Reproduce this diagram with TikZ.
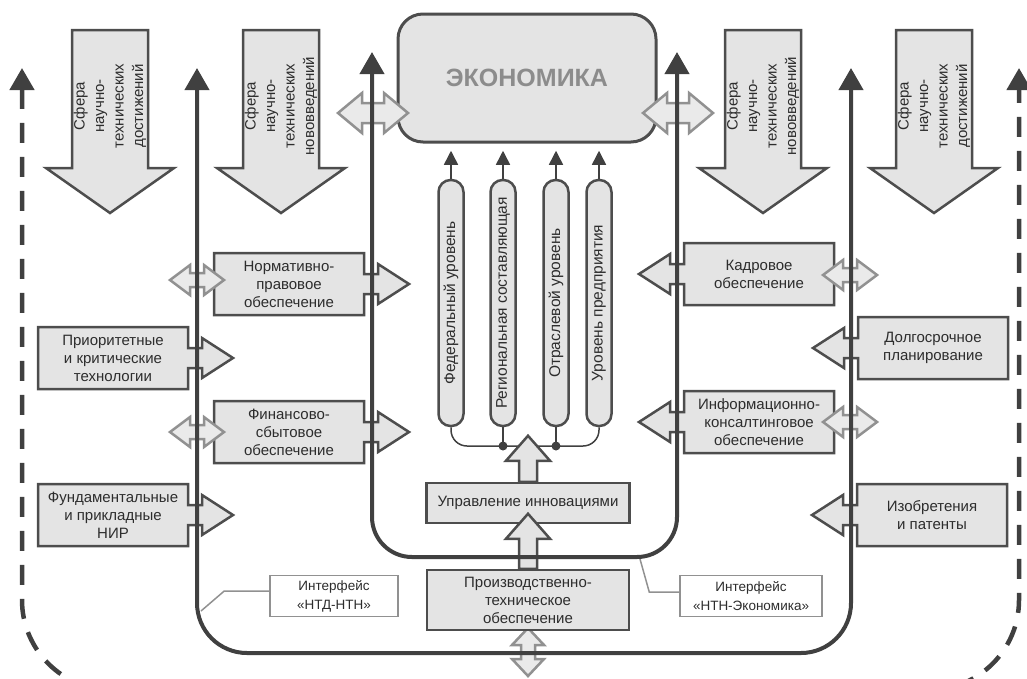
\documentclass[tikz,border=0pt]{standalone}
\usepackage{fontspec}
\setmainfont{Liberation Sans}
\usepackage{tikz}
\usetikzlibrary{arrows.meta,calc}
\definecolor{boxFill}{RGB}{228,228,228}
\definecolor{edgeColor}{RGB}{77,77,77}
\definecolor{lineColor}{RGB}{64,64,64}
\definecolor{textColor}{RGB}{45,45,45}
\definecolor{econText}{RGB}{140,140,140}
\definecolor{twoWayFill}{RGB}{234,234,234}
\definecolor{twoWayEdge}{RGB}{145,145,145}
\tikzstyle{scheme} = [x = 1pt, y = -1pt]
\tikzstyle{boxStyle} = [draw=edgeColor, fill=boxFill, line width=2.5pt]
\tikzstyle{boxText} = [text=textColor, align=center, font=\fontsize{15}{18}\selectfont]
\tikzstyle{sphereText} = [text=textColor, align=center, font=\fontsize{15}{19.5}\selectfont, rotate=90]
\tikzstyle{twoWayStyle} = [draw=twoWayEdge, fill=twoWayFill, line width=2.5pt]
\tikzstyle{loopLine} = [color=lineColor, line width=4pt, <->, >={Triangle[length=22pt, width=24pt]}]
\tikzstyle{dashLoop} = [loopLine, line width=4.5pt, dash pattern=on 20pt off 14pt, rounded corners=90pt]
\tikzstyle{rodStyle} = [draw=edgeColor, fill=boxFill, line width=2.5pt, rounded corners=12pt, minimum width=246pt, minimum height=25pt, inner sep=0pt, rotate=90, text=textColor, font=\fontsize{15.5}{18}\selectfont]
\tikzstyle{rodArrow} = [color=lineColor, line width=1.5pt, -{Triangle[length=14pt, width=14pt]}]
\tikzstyle{busLine} = [color=lineColor, line width=1.5pt, rounded corners=16pt]
\tikzstyle{econStyle} = [draw=edgeColor, fill=boxFill, line width=3pt, rounded corners=25pt, minimum width=258pt, minimum height=128pt, text=econText, font=\fontsize{25}{30}\selectfont\bfseries]
\tikzstyle{faceBox} = [draw=twoWayEdge, fill=white, line width=1.5pt, text=textColor, align=center, font=\fontsize{13.5}{19}\selectfont, minimum height=41pt, inner sep=1pt]
\tikzstyle{pointerLine} = [draw=twoWayEdge, line width=1.5pt]
\newcommand{\sphereArrow}[3]{\filldraw [boxStyle] (#2-38,30) -- (#2+38,30) -- (#2+38,168) -- (#2+64,168) -- (#2,213) -- (#2-64,168) -- (#2-38,168) -- cycle; \node (#1) [sphereText] at (#2,106) {#3};}
\newcommand{\boxRight}[3]{
  \begin{scope}[shift={(#2)}]
    \filldraw [boxStyle] (-75,-31) -- (75,-31) -- (75,-10) -- (89,-10) -- (89,-20) -- (120,0) -- (89,20) -- (89,10) -- (75,10) -- (75,31) -- (-75,31) -- cycle;
    \node (#1) [boxText] at (0,0) {#3};
  \end{scope}
}
\newcommand{\boxLeft}[3]{
  \begin{scope}[shift={(#2)}]
    \filldraw [boxStyle] (75,-31) -- (-75,-31) -- (-75,-10) -- (-89,-10) -- (-89,-20) -- (-120,0) -- (-89,20) -- (-89,10) -- (-75,10) -- (-75,31) -- (75,31) -- cycle;
    \node (#1) [boxText] at (0,0) {#3};
  \end{scope}
}
\newcommand{\twoWayH}[6]{\filldraw [twoWayStyle, shift={(#1,#2)}] (-#3,0) -- (-#3+#4,-#5) -- (-#3+#4,-#6) -- (#3-#4,-#6) -- (#3-#4,-#5) -- (#3,0) -- (#3-#4,#5) -- (#3-#4,#6) -- (-#3+#4,#6) -- (-#3+#4,#5) -- cycle;}
\newcommand{\twoWayV}[6]{\filldraw [twoWayStyle, shift={(#1,#2)}] (0,-#3) -- (#5,-#3+#4) -- (#6,-#3+#4) -- (#6,#3-#4) -- (#5,#3-#4) -- (0,#3) -- (-#5,#3-#4) -- (-#6,#3-#4) -- (-#6,-#3+#4) -- (-#5,-#3+#4) -- cycle;}
\newcommand{\upArrow}[2]{\filldraw [boxStyle, shift={(#1)}] (-9,0) -- (-9,-#2+25) -- (-22,-#2+25) -- (0,-#2) -- (22,-#2+25) -- (9,-#2+25) -- (9,0) -- cycle;}

\begin{document}
\begin{tikzpicture}[scheme]
  \useasboundingbox (0,0) rectangle (1027,678);
  \clip (0,0) rectangle (1027,678);

  \sphereArrow{sph1}{110}{Сфера\\научно-\\технических\\достижений}
  \sphereArrow{sph2}{281}{Сфера\\научно-\\технических\\нововведений}
  \sphereArrow{sph3}{763}{Сфера\\научно-\\технических\\нововведений}
  \sphereArrow{sph4}{934}{Сфера\\научно-\\технических\\достижений}

  \draw[dashLoop] (22,68) -- (22,690) -- (1019,690) -- (1019,68);

  \boxRight{prior}{113,358}{Приоритетные\\и критические\\технологии}
  \boxRight{fund}{113,515}{Фундаментальные\\и прикладные\\НИР}
  \boxRight{norm}{289,284}{Нормативно-\\правовое\\обеспечение}
  \boxRight{fin}{289,432}{Финансово-\\сбытовое\\обеспечение}
  \boxLeft{kadr}{759,274}{Кадровое\\обеспечение}
  \boxLeft{info}{759,422}{Информационно-\\консалтинговое\\обеспечение}
  \boxLeft{dolg}{933,348}{Долгосрочное\\планирование}
  \boxLeft{izob}{932,515}{Изобретения\\и патенты}

  \node (econ) [econStyle] at (527,78) {ЭКОНОМИКА};

  \twoWayH{373}{113}{35}{24}{20}{10}
  \twoWayH{678}{113}{35}{24}{20}{10}
  \twoWayH{197}{280}{27}{20}{15}{7}
  \twoWayH{197}{432}{27}{20}{15}{7}
  \twoWayH{850}{275}{27}{20}{15}{7}
  \twoWayH{850}{422}{27}{20}{15}{7}
  \twoWayV{528}{652}{24}{17}{16}{7}

  \node (fed) [rodStyle] at (451,303) {Федеральный уровень};
  \node (reg) [rodStyle] at (503,303) {Региональная составляющая};
  \node (otr) [rodStyle] at (556,303) {Отраслевой уровень};
  \node (ent) [rodStyle] at (599,303) {Уровень предприятия};
  \foreach \rod in {fed,reg,otr,ent} \draw[rodArrow] (\rod.east) -- ++(0,-28);
  \coordinate (bus) at (0,446);
  \draw[busLine] (fed.west) -- (fed.west |- bus) -- (ent.west |- bus) -- (ent.west);
  \foreach \rod in {reg,otr} {
    \draw[busLine] (\rod.west) -- (\rod.west |- bus);
    \fill[lineColor] (\rod.west |- bus) circle (4.5);
  }

  \node (upr) [boxStyle, boxText, minimum width=203pt, minimum height=40pt] at (528,503) {Управление инновациями};
  \node (prod) [boxStyle, boxText, minimum width=202pt, minimum height=60pt] at (528,600) {Производственно-\\техническое\\обеспечение};
  \upArrow{upr.north}{46}
  \upArrow{prod.north}{55}

  \node (ntd) [faceBox, minimum width=128pt] at (334,596) {Интерфейс\\«НТД-НТН»};
  \node (nte) [faceBox, minimum width=142pt] at (751,596) {Интерфейс\\«НТН-Экономика»};
  \coordinate (ntdEnd) at (201,611);
  \coordinate (nteEnd) at (640,559);
  \draw[pointerLine] ($(ntd.west)+(0,-5)$) -- ++(-45,0) -- (ntdEnd);
  \draw[pointerLine] ($(nte.west)+(0,-4)$) -- ++(-30,0) -- (nteEnd);

  \draw[loopLine, rounded corners=50pt] (197,68) -- (197,653) -- (851,653) -- (851,68);
  \draw[loopLine, rounded corners=40pt] (372,52) -- (372,557) -- (677,557) -- (677,52);
\end{tikzpicture}
\end{document}
